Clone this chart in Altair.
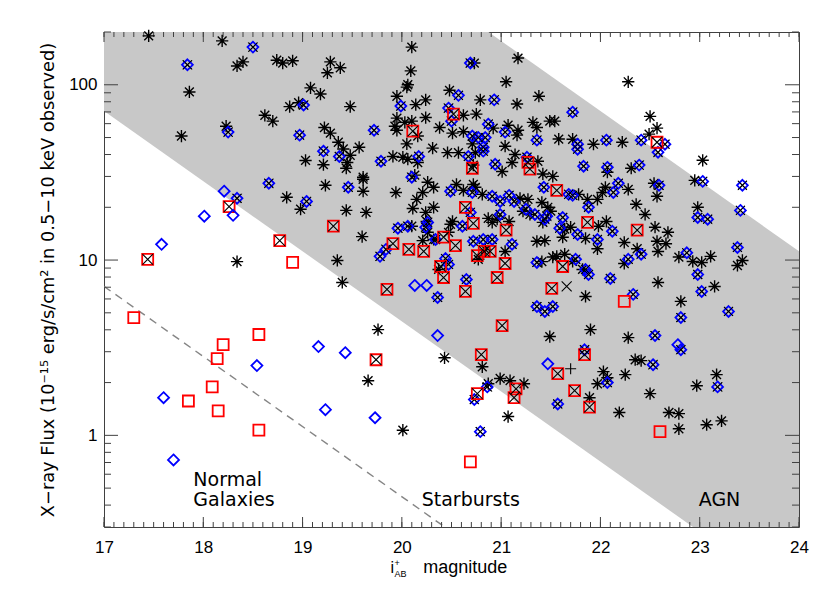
import altair as alt
import pandas as pd

# ---------------- data: (i+_AB magnitude, X-ray flux) ----------------
asterisk_pts = [
    (17.45, 190), (18.19, 178), (18.34, 128), (18.40, 135), (18.74, 138), (17.86, 91), (18.62, 67),
    (18.70, 62), (18.23, 58), (17.78, 51), (18.34, 9.8),
    (18.80, 133), (18.90, 137), (19.28, 135), (19.38, 125), (19.25, 117), (19.08, 96), (19.18, 88.5),
    (19.95, 86), (20.10, 164), (20.09, 120), (20.06, 100), (20.05, 97), (20.24, 82), (20.14, 77),
    (19.48, 75), (18.87, 75), (18.96, 79), (20.24, 65), (19.95, 64.5), (19.93, 58), (19.95, 55),
    (20.10, 62), (20.03, 61), (20.16, 51), (20.05, 46), (19.22, 57), (19.28, 53), (19.36, 47),
    (19.41, 43), (19.57, 44), (19.48, 39.6), (19.45, 36), (19.44, 33.4), (19.03, 37), (19.21, 35),
    (19.91, 39), (20.01, 38.6), (20.06, 37.6), (20.16, 36), (19.61, 29.7), (20.13, 30.5),
    (19.23, 26.7), (19.61, 28.9), (19.61, 24.7), (19.94, 24.3), (20.26, 27.8), (18.84, 22.8),
    (18.98, 19.5), (19.44, 19.2), (19.64, 18.7), (20.15, 22.2), (20.21, 24.3), (20.11, 19.7),
    (20.24, 18.7), (19.60, 13.6), (20.10, 15.6), (20.25, 16.6), (20.26, 14.4), (20.21, 12.9),
    (19.35, 9.95), (19.40, 7.45),
    (20.73, 133), (21.17, 142), (21.05, 104), (20.48, 93), (20.79, 82), (21.16, 77.6), (21.38, 86),
    (20.62, 67), (20.75, 68), (20.38, 57), (20.51, 53), (20.62, 54), (20.92, 56.6), (21.07, 58.8),
    (21.16, 51.6), (21.17, 55), (21.32, 61), (21.36, 57), (21.49, 62), (21.54, 62), (21.58, 49),
    (20.71, 46), (20.74, 41), (20.31, 43.5), (20.46, 41), (20.57, 41), (21.04, 44.6), (21.14, 40),
    (21.37, 36.6), (21.01, 32), (21.11, 36), (20.72, 34.8), (21.42, 31), (21.52, 30),
    (20.32, 26), (20.55, 27), (20.62, 25), (20.72, 27), (20.74, 26), (20.81, 23.7), (21.19, 22.5),
    (21.27, 22.2), (20.32, 20), (20.51, 16.6), (20.87, 17.3), (20.91, 16.4), (20.96, 17.1),
    (21.08, 16.6), (21.22, 19), (21.29, 18.2), (21.47, 20), (21.50, 19), (21.41, 21.3), (21.42, 16.4),
    (21.64, 15), (21.62, 13.5), (21.36, 12.8), (21.44, 12.9), (20.47, 14.4), (20.49, 16), (20.32, 13.1),
    (20.84, 11.5), (20.77, 10.1), (21.04, 11.2), (20.37, 8.84), (21.41, 9.8), (21.52, 10.4),
    (21.56, 10.5), (21.64, 10.8),
    (22.28, 104), (22.50, 66), (22.57, 56.6), (22.49, 52.3), (22.22, 47), (21.93, 45.8), (21.72, 48.9),
    (22.07, 31.7), (22.31, 33.4), (22.05, 26), (22.02, 24.3), (22.28, 25.3), (22.54, 27.4),
    (22.57, 23.1), (23.03, 37.1), (22.95, 28.5), (21.78, 23.7), (21.87, 22.2), (21.97, 22.2),
    (22.36, 20.8), (22.98, 20),
    (22.45, 18.2), (21.70, 15.4), (21.85, 13.3), (21.98, 15.6), (22.06, 16.6), (22.55, 15.4),
    (22.68, 14.4), (21.97, 11.6), (22.24, 12.6), (22.37, 11.6), (22.57, 12.8), (22.58, 11.2),
    (22.66, 12.4), (22.24, 9.56), (22.79, 10.4), (22.93, 9.82), (23.02, 9.69), (21.72, 9.82),
    (21.82, 8.84), (22.58, 7.45), (21.85, 6.2), (22.81, 5.81), (21.90, 4.01), (22.28, 3.61),
    (23.11, 10.5), (23.43, 9.95), (23.38, 9.31), (23.15, 7.07), (23.17, 2.22), (22.97, 1.92),
    (23.07, 1.15), (23.22, 1.21),
    (21.49, 3.66), (20.43, 2.77), (20.81, 2.46), (22.03, 2.31), (22.07, 2.13), (21.97, 1.97),
    (22.25, 2.22), (22.35, 2.70), (22.41, 2.67), (20.99, 2.11), (21.09, 2.05), (21.23, 1.97),
    (20.87, 1.97), (21.89, 1.64), (22.50, 1.73), (22.69, 1.35), (22.79, 1.33), (22.19, 1.35),
    (22.79, 1.09), (21.07, 1.28), (20.01, 1.07), (19.76, 4.01), (19.66, 2.05),
]

crossed_diamond_pts = [
    (18.50, 164), (17.84, 130), (18.25, 53.7), (18.66, 27.4), (18.34, 22.5),
    (19.99, 75.6), (19.01, 76.6), (19.72, 55), (18.97, 51.6), (19.21, 41.8), (19.37, 39), (19.79, 36.6),
    (20.17, 39), (20.10, 29.7), (19.46, 26), (19.04, 21.6), (19.96, 15.2), (20.06, 15.6), (20.24, 15.4),
    (19.84, 11.5), (19.78, 10.5),
    (20.69, 133), (20.57, 87), (20.93, 82), (20.47, 73.6), (20.50, 62), (20.87, 59.6), (21.04, 53.7),
    (21.36, 48.3), (20.71, 51), (20.77, 50), (20.84, 50), (20.82, 44), (20.82, 41.8), (20.67, 39),
    (21.26, 38.6), (20.94, 35.2),
    (21.43, 26), (21.68, 23.7), (20.49, 24.7), (20.71, 24.3), (20.91, 23.1), (20.99, 21.6), (21.08, 23.4),
    (21.13, 21.6), (20.69, 18.7), (20.26, 16.4), (20.61, 15.6), (20.99, 18.2), (21.25, 19.5),
    (21.34, 18.2), (21.44, 17.1), (21.46, 17.8), (21.62, 17.5), (21.59, 15.2), (20.34, 13.1),
    (20.72, 12.8), (20.82, 13.1), (20.91, 13.1), (21.11, 12.3), (20.44, 10.2), (20.47, 9.44),
    (21.36, 9.69), (20.65, 7.75), (20.36, 6.12), (21.36, 5.43), (21.44, 5.09), (21.52, 5.43),
    (21.72, 69.8), (22.41, 48.3), (22.65, 45.8), (22.58, 41.2), (22.06, 48.3), (21.77, 45.8),
    (21.77, 42.9), (21.83, 34.3), (22.07, 33.8), (22.39, 34.8), (22.18, 27.4), (22.13, 24.3),
    (22.59, 26.7), (23.03, 28.1), (21.72, 23.4), (21.88, 20),
    (21.77, 14), (22.12, 14.6), (21.97, 13.1), (22.41, 10.8), (22.28, 10.1), (22.87, 11), (22.98, 8.27),
    (23.02, 6.62), (21.75, 10.1), (21.85, 8.84), (21.88, 8.27), (22.10, 7.85), (22.33, 6.37),
    (22.81, 4.70), (22.55, 3.71), (22.81, 3.08), (21.84, 3.08),
    (23.43, 26.7), (22.98, 17.5), (23.08, 17.1), (23.41, 19.2), (23.38, 11.8), (23.29, 5.09), (23.18, 1.89),
    (22.07, 2.0), (22.53, 2.53), (20.86, 1.89), (20.73, 1.60), (21.57, 1.51), (20.79, 1.05),
]

crossed_square_pts = [
    (18.26, 20.2), (17.44, 10.1), (18.77, 12.9), (20.11, 54.4), (19.31, 15.6), (19.91, 12.4),
    (20.07, 11.5), (20.22, 11.2), (19.85, 6.8), (20.52, 68), (21.27, 36.1), (21.29, 33), (20.71, 33.4),
    (21.56, 25), (20.64, 20), (20.72, 16.2), (21.05, 14.8), (20.54, 12.1), (20.42, 13.5), (20.76, 10.6),
    (20.83, 11.2), (20.89, 11.2), (21.04, 9.56), (20.39, 9.19), (20.42, 7.95), (21.62, 9.19),
    (20.96, 7.95), (20.64, 6.62), (21.51, 6.89), (22.57, 47), (21.87, 16.4), (22.37, 14.8),
    (21.01, 4.23), (20.80, 2.89), (21.57, 2.25), (21.84, 2.89), (20.76, 1.73), (21.15, 1.84),
    (21.13, 1.64), (21.74, 1.80), (21.89, 1.45), (19.74, 2.70),
]

open_square_pts = [
    (17.30, 4.70), (18.20, 3.29), (18.56, 3.76), (18.14, 2.74), (18.09, 1.89), (17.85, 1.57),
    (18.15, 1.38), (18.56, 1.07), (18.90, 9.69), (22.24, 5.81), (22.60, 1.05), (20.69, 0.706),
]

open_diamond_pts = [
    (18.21, 24.7), (18.01, 17.8), (18.30, 18.0), (17.58, 12.3), (20.13, 7.16), (20.25, 7.16),
    (20.36, 3.71), (21.47, 2.56), (22.78, 3.29), (17.60, 1.64), (17.70, 0.724), (18.54, 2.50),
    (19.16, 3.21), (19.43, 2.96), (19.23, 1.40), (19.73, 1.26),
]

cross_only_pts = [(21.66, 7.07)]
plus_only_pts = [(21.70, 2.40)]

region_labels = ["Normal", "Galaxies", "Starbursts", "AGN"]
region_mag = [17.90, 17.90, 20.20, 22.99]
region_flux = [0.514, 0.395, 0.395, 0.395]

# f_X / f_opt boundaries: log10 F = ZP + k - 0.4 m
ZP = 9.65
band_k = (1, -1)
dash_k = -2
line_mag = [17, 24]

x_major = [17, 18, 19, 20, 21, 22, 23, 24]
x_minor = [round(17 + 0.1 * i, 1) for i in range(71)]
y_major = [1, 10, 100]
y_minor = [0.3, 0.4, 0.5, 0.6, 0.7, 0.8, 0.9, 2, 3, 4, 5, 6, 7, 8, 9,
           20, 30, 40, 50, 60, 70, 80, 90, 200]

Y_TITLE = "X\u2212ray Flux (10\u207b\u00b9\u2075 erg/s/cm\u00b2 in 0.5\u221210 keV observed)"

# ---------------- chart ----------------
W, H = 695, 495
AX = "#404040"
xs = alt.Scale(domain=[17, 24], nice=False, zero=False)
ys = alt.Scale(type="log", domain=[0.3, 200], nice=False)


def pts(lst):
    return pd.DataFrame(lst, columns=["mag", "flux"])


def X(axis=None):
    return alt.X("mag:Q", scale=xs, axis=axis)


def Y(field="flux", axis=None):
    return alt.Y(f"{field}:Q", scale=ys, axis=axis)


def tick_rules(values, channel, side, length):
    df = pd.DataFrame({"v": values})
    if channel == "x":
        enc = dict(x=alt.X("v:Q", scale=xs, axis=None))
        if side == "bottom":
            enc.update(y=alt.value(H), y2=alt.value(H - length))
        else:
            enc.update(y=alt.value(0), y2=alt.value(length))
    else:
        enc = dict(y=alt.Y("v:Q", scale=ys, axis=None))
        if side == "left":
            enc.update(x=alt.value(0), x2=alt.value(length))
        else:
            enc.update(x=alt.value(W), x2=alt.value(W - length))
    return alt.Chart(df).mark_rule(color=AX, strokeWidth=1).encode(**enc)


band_df = pd.DataFrame({
    "mag": line_mag,
    "upper": [10 ** (ZP + band_k[0] - 0.4 * m) for m in line_mag],
    "lower": [10 ** (ZP + band_k[1] - 0.4 * m) for m in line_mag],
})
dash_df = pd.DataFrame({"mag": line_mag, "flux": [10 ** (ZP + dash_k - 0.4 * m) for m in line_mag]})

x_label_axis = alt.Axis(orient="bottom", values=x_major, ticks=False, tickSize=0, domain=False,
                        grid=False, labelFont="Liberation Sans", labelFontSize=17, labelColor="black",
                        labelPadding=12, labelFlush=False, labelOverlap=False, format="d", title=None)
y_label_axis = alt.Axis(orient="left", values=y_major, ticks=False, tickSize=0, domain=False,
                        grid=False, labelFont="Liberation Sans", labelFontSize=17, labelColor="black",
                        labelPadding=7, labelFlush=False, labelOverlap=False, format="d",
                        title=Y_TITLE, titleFont="DejaVu Sans", titleFontSize=17.8,
                        titleFontWeight="normal", titleColor="black", titlePadding=11)

band = alt.Chart(band_df).mark_area(color="#c8c8c8", opacity=1, clip=True).encode(
    x=X(x_label_axis), y=Y("upper", y_label_axis), y2="lower:Q")

dashed = alt.Chart(dash_df).mark_line(color="#858585", strokeDash=[8, 6], strokeWidth=1.4,
                                      clip=True).encode(x=X(), y=Y())

ticks = [
    tick_rules(x_minor, "x", "bottom", 5), tick_rules(x_major, "x", "bottom", 10),
    tick_rules(x_minor, "x", "top", 5), tick_rules(x_major, "x", "top", 10),
    tick_rules(y_minor, "y", "left", 7), tick_rules(y_major, "y", "left", 14),
    tick_rules(y_minor, "y", "right", 7), tick_rules(y_major, "y", "right", 14),
]

STAR = "M-1,0L1,0M0,-1L0,1M-0.72,-0.72L0.72,0.72M-0.72,0.72L0.72,-0.72"
XSHAPE = "M-1,-1L1,1M-1,1L1,-1"
PLUS = "M-1,0L1,0M0,-1L0,1"
DIAM = "M0,-1L1,0L0,1L-1,0Z"
SQR = "M-1,-1L1,-1L1,1L-1,1Z"


def sym(lst, shape, size, color, sw):
    return alt.Chart(pts(lst)).mark_point(
        shape=shape, size=size, filled=False, color=color, strokeWidth=sw, opacity=1).encode(
        x=X(), y=Y())


stars = sym(asterisk_pts, STAR, 150, "black", 1.4)
dia_x = sym(crossed_diamond_pts, XSHAPE, 80, "black", 1.2)
dia_b = sym(crossed_diamond_pts, DIAM, 118, "#0000ff", 1.8)
dia_x2 = sym(crossed_diamond_pts, XSHAPE, 80, "black", 1.0)
sq_r = sym(crossed_square_pts, SQR, 121, "#ff0000", 1.8)
sq_x = sym(crossed_square_pts, XSHAPE, 110, "black", 1.1)
open_sq = sym(open_square_pts, SQR, 121, "#ff0000", 1.8)
open_dia = sym(open_diamond_pts, DIAM, 121, "#0000ff", 1.8)
cross_only = sym(cross_only_pts, XSHAPE, 100, "black", 1.1)
plus_only = sym(plus_only_pts, PLUS, 121, "black", 1.1)

region_df = pd.DataFrame({"label": region_labels, "mag": region_mag, "flux": region_flux})
regions = alt.Chart(region_df).mark_text(
    align="left", baseline="alphabetic", font="DejaVu Sans", fontSize=19, color="black").encode(
    x=X(), y=Y(), text="label:N")


# x-axis title: i^+_AB  magnitude
def title_piece(txt, px, py, size):
    return alt.Chart(pd.DataFrame({"t": [txt]})).mark_text(
        align="left", baseline="alphabetic", font="Liberation Sans", fontSize=size, color="black").encode(
        x=alt.value(px), y=alt.value(py), text="t:N")


xt_i = title_piece("i", 286.5, 541, 16)
xt_plus = title_piece("+", 290.5, 533.5, 9)
xt_ab = title_piece("AB", 290.5, 544.5, 9)
xt_mag = title_piece("magnitude", 319.3, 541, 18)

chart = alt.layer(
    band, dashed, *ticks, stars, dia_x, dia_b, dia_x2, sq_r, sq_x, open_sq, open_dia,
    cross_only, plus_only, regions, xt_i, xt_plus, xt_ab, xt_mag,
).resolve_axis(x="independent", y="independent").properties(
    width=W, height=H,
    autosize=alt.AutoSizeParams(type="none"),
    padding={"left": 96, "top": 24, "right": 16, "bottom": 58},
    background="white",
).configure_view(stroke=AX, strokeWidth=1)

chart.save("out.html", embed_options={"renderer": "svg", "actions": False})
